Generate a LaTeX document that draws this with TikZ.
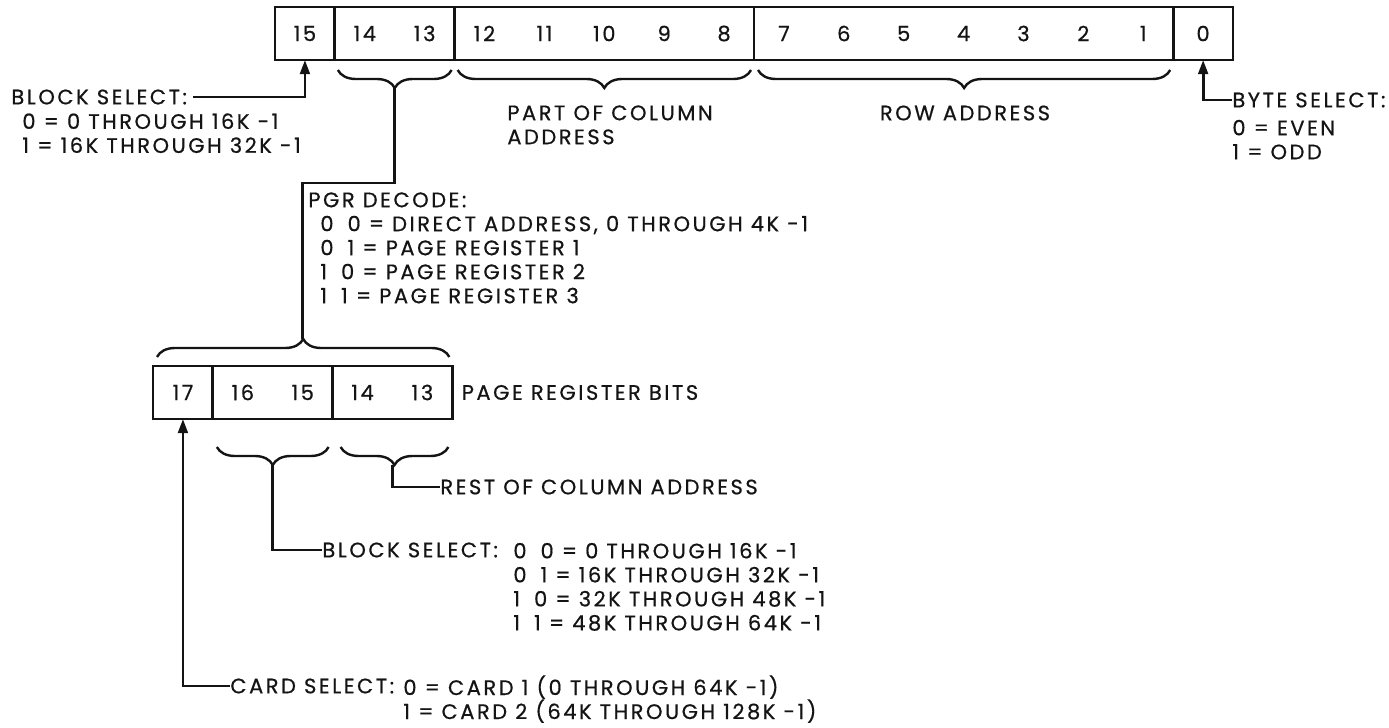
\documentclass[tikz,border=0pt]{standalone}
\usepackage{fontspec}
\setmainfont{Poppins}[LetterSpace=12, FakeBold=0.6]
\usetikzlibrary{arrows.meta, positioning, calc, decorations.pathreplacing}
\definecolor{inkline}{RGB}{20,20,20}
\newcommand{\bitw}{29.94pt}
\tikzset{
  cell/.style={
    rectangle, draw=inkline, line width=1.4pt, anchor=north west,
    minimum height=26.5pt, inner sep=0pt, outer sep=0pt
  },
  txt/.style={font=\fontsize{10.5}{12}\selectfont, text=inkline, inner sep=0pt},
  lbl/.style={txt, align=left},
  conn/.style={draw=inkline, line width=1.4pt},
  arr/.style={conn, -{Triangle[length=7pt, width=4.8pt]}},
  brc/.style={draw=inkline, line width=1.2pt, decorate,
    decoration={brace, amplitude=9pt}}
}

\begin{document}
\begin{tikzpicture}[x=0.5pt, y=-0.5pt]
  \useasboundingbox (0,0) rectangle (1389,728);

  \node[cell, minimum width=\bitw]   (b15)   at (275,7) {};
  \node[cell, minimum width=2*\bitw] (b1413) at (b15.north east) {};
  \node[cell, minimum width=5*\bitw] (b128)  at (b1413.north east) {};
  \node[cell, minimum width=7*\bitw] (b71)   at (b128.north east) {};
  \node[cell, minimum width=\bitw]   (b0)    at (b71.north east) {};
  \foreach \b in {0,...,15}
    \node[txt] (t\b) at ({275+(15.5-\b)*59.875},33.5) {\b};

  \draw[brc] ($(b1413.south east)+(-3,10)$) -- ($(b1413.south west)+(3,10)$);
  \draw[brc] ($(b128.south east)+(-3,10)$) -- ($(b128.south west)+(3,10)$);
  \draw[brc] ($(b71.south east)+(-3,10)$) -- ($(b71.south west)+(4,10)$);
  \coordinate (pgrtip) at ($(b1413.south)+(0,28)$);

  \node[txt, anchor=west] (bshead) at (11,97) {BLOCK SELECT:};
  \node[lbl, anchor=north west] (bsbody) at (22,113)
        {0 = 0 THROUGH 16K -1\\1 = 16K THROUGH 32K -1};
  \draw[arr] ([xshift=3pt]bshead.east) -| (b15.south);

  \node[txt, anchor=west] (byhead) at (1232,100) {BYTE SELECT:};
  \node[lbl, anchor=north west] (bybody) at (1232,119.5) {0 = EVEN\\1 = ODD};
  \draw[arr] (byhead.west) -| (b0.south);

  \node[lbl, anchor=north west] (colpart) at (507,105) {PART OF COLUMN\\ADDRESS};
  \node[txt] (rowaddr) at (965,113) {ROW ADDRESS};

  \node[cell, minimum width=\bitw]   (p17)   at (153,366) {};
  \node[cell, minimum width=2*\bitw] (p1615) at (p17.north east) {};
  \node[cell, minimum width=2*\bitw] (p1413) at (p1615.north east) {};
  \foreach \b in {13,...,17}
    \node[txt] (q\b) at ({153+(17.5-\b)*59.875},392.5) {\b};
  \node[txt, right=4.5pt of p1413] (pgbits) {PAGE REGISTER BITS};

  \draw[brc] ($(p17.north west)+(4,-9)$) -- ($(p1413.north east)+(-3,-9)$);
  \coordinate (pgrbtm) at ($(p17.north west)!0.5!(p1413.north east)+(0,-27)$);
  \draw[conn] (pgrtip) |- ($(pgrbtm)+(0,-156)$) -- (pgrbtm);
  \node[lbl, anchor=north west] (pgrdec) at (308,192)
        {PGR DECODE:\\
         \hspace*{6pt}0\hspace{7pt}0 = DIRECT ADDRESS, 0 THROUGH 4K -1\\
         \hspace*{6pt}0\hspace{7pt}1 = PAGE REGISTER 1\\
         \hspace*{6pt}1\hspace{7pt}0 = PAGE REGISTER 2\\
         \hspace*{6pt}1\hspace{7pt}1 = PAGE REGISTER 3};

  \draw[brc] ($(p1615.south east)+(-4,28)$) -- ($(p1615.south west)+(4,28)$);
  \draw[brc] ($(p1413.south east)+(-4,28)$) -- ($(p1413.south west)+(8,28)$);
  \coordinate (blktip)  at ($(p1615.south)+(0,46)$);
  \coordinate (resttip) at ($(p1413.south)+(0,46)$);

  \node[txt, anchor=west] (rest) at (440,487) {REST OF COLUMN ADDRESS};
  \draw[conn] (resttip) |- (rest.west);

  \node[txt, anchor=west] (blksel) at (322,550) {BLOCK SELECT:};
  \node[lbl, anchor=north west] (blkcode) at (513,542.5)
        {0\hspace{7pt}0 = 0 THROUGH 16K -1\\
         0\hspace{7pt}1 = 16K THROUGH 32K -1\\
         1\hspace{7pt}0 = 32K THROUGH 48K -1\\
         1\hspace{7pt}1 = 48K THROUGH 64K -1};
  \draw[conn] (blktip) |- (blksel.west);

  \node[txt, anchor=west] (cardsel) at (230,686) {CARD SELECT:};
  \node[lbl, anchor=north west] (cardcode) at (403,675)
        {0 = CARD 1 (0 THROUGH 64K -1)\\1 = CARD 2 (64K THROUGH 128K -1)};
  \draw[arr] (cardsel.west) -| (p17.south);
\end{tikzpicture}
\end{document}
